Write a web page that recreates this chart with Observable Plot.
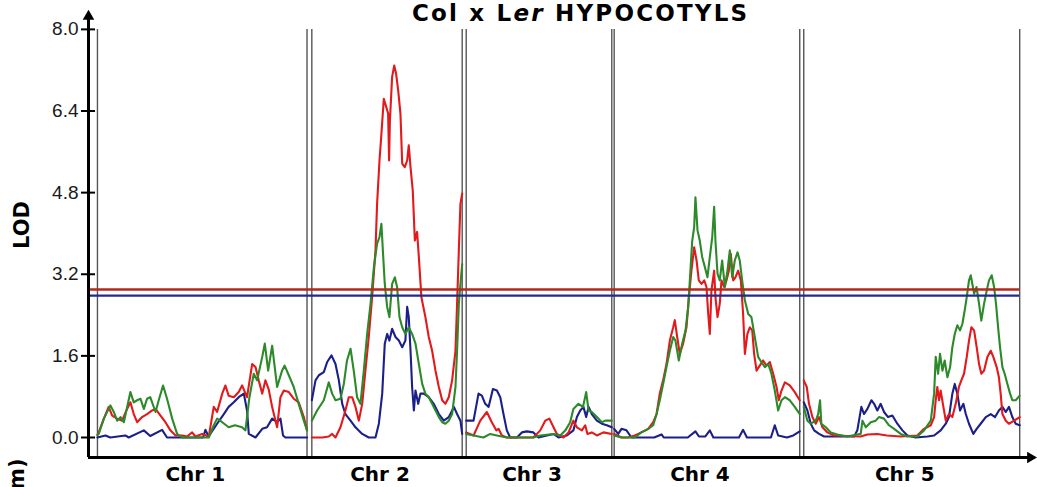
<!DOCTYPE html>
<html>
<head>
<meta charset="utf-8">
<script src="https://cdn.jsdelivr.net/npm/d3@7"></script>
<script src="https://cdn.jsdelivr.net/npm/@observablehq/plot@0.6"></script>
<style>
  html, body { margin: 0; padding: 0; background: #fff; }
  #wrap { position: relative; width: 1037px; height: 487px; overflow: hidden; background: #fff; }
  #title { position: absolute; left: 412px; top: 0px; font: bold 23px "DejaVu Sans", sans-serif; letter-spacing: 2.2px; line-height: 27px; white-space: nowrap; color: #000; }
  #title i { font-style: italic; }
</style>
</head>
<body>
<div id="wrap"></div>
<script>
// ---------------- data ----------------
const chrNames = ["Chr 1", "Chr 2", "Chr 3", "Chr 4", "Chr 5"];
const chrStart = [0, 134, 230.5, 323, 441.5];   // cM offsets along the genome axis
const chrLength = [131, 94, 91, 116, 135];      // cM
const yTicks = [0, 1.6, 3.2, 4.8, 6.4, 8.0];
const thresholdRed = 2.9;
const thresholdBlue = 2.78;

// [position within chromosome (cM), LOD]
const chr1Red = [[0,0.05],[0.8,0.1],[4,0.37],[7,0.6],[9.2,0.43],[12.3,0.37],[15.4,0.33],[18.5,0.56],[20.6,0.69],[22.7,0.46],[24.8,0.3],[27.9,0.4],[31,0.46],[34.2,0.53],[36.3,0.56],[39.4,0.43],[42.5,0.3],[45.6,0.14],[48.8,0.04],[53,0.04],[56,0.02],[59.2,0.1],[61.2,0.02],[65.4,0.07],[69.6,0.02],[72.7,0.6],[74.8,0.5],[78,0.86],[80,1.02],[82,0.82],[85.2,0.79],[88.3,0.89],[90.4,1.02],[93.5,0.79],[96.7,1.44],[98.8,1.38],[100.8,1.12],[103,0.86],[105,1.12],[107,0.95],[109.2,0.6],[112.3,0.2],[114.4,0.79],[116.5,0.92],[119.6,0.89],[122.7,0.76],[125.8,0.69],[129,0.4],[131,0.14]];
const chr1Green = [[0,0.05],[0.8,0.07],[4,0.37],[8.1,0.63],[10.2,0.5],[12.3,0.33],[14.4,0.4],[16.5,0.3],[20.6,0.89],[22.7,0.69],[24.8,0.73],[26.9,0.76],[29,0.56],[31,0.76],[33,0.79],[36.3,0.5],[38.3,0.73],[41,1.02],[43.5,0.76],[46.7,0.37],[49.8,0.07],[53,0],[69.6,0],[72.7,0.24],[74.8,0.37],[78,0.3],[82,0.2],[86,0.24],[90.4,0.2],[92.5,0.14],[95,0.79],[97.7,1.25],[99.8,1.12],[103,1.58],[104.6,1.84],[106.7,1.31],[109.2,1.8],[112.3,0.99],[115.4,1.31],[117,1.41],[119.6,1.22],[122.7,0.99],[125.8,0.66],[129,0.33],[131,0.14]];
const chr1Blue = [[0,0],[5,0.04],[8,0],[17.5,0.04],[19.5,0],[29,0.14],[33,0.03],[40.4,0.15],[43.5,0],[66,0],[67.5,0.15],[69.5,0.02],[74.8,0.27],[79,0.46],[82,0.6],[85.2,0.69],[88.3,0.79],[91.5,0.86],[93.5,0.53],[94.6,0.07],[98.8,0],[103,0.17],[106,0.2],[109.2,0.37],[112.3,0.3],[114.4,0.37],[116,0.04],[117.5,0],[131,0]];

const chr2Red = [[0,0],[6.5,0],[10.6,0.02],[12.7,0.07],[14.8,0],[17.9,0.2],[21,0.53],[23.1,0.79],[25.2,0.79],[27.3,0.6],[29.4,0.33],[31.5,0.66],[33.5,1.31],[35.6,1.97],[37.7,2.75],[39.8,3.67],[40.8,4.58],[42.3,5.43],[43.5,5.95],[45,6.64],[46.5,6.48],[47.7,6.35],[48.3,5.43],[48.8,6.2],[50.2,7.07],[51.5,7.29],[52.7,7.13],[54,6.8],[55.4,6.35],[56.5,5.37],[58.1,5.3],[59.6,5.43],[60.6,5.73],[61.7,5.3],[63.1,4.84],[64.4,3.86],[65.8,4.03],[66.9,3.54],[68.5,2.75],[71,2.36],[73.1,1.97],[75.2,1.7],[77.3,1.31],[79.4,0.99],[81.5,0.73],[83.5,0.66],[85.6,0.79],[87.7,1.12],[89.8,1.7],[90.8,2.62],[91.9,3.67],[92.9,4.58],[94,4.78]];
const chr2Green = [[0,0.33],[3.3,0.53],[7.5,0.73],[10.6,1.08],[12.7,0.86],[14.8,0.73],[17.9,0.76],[20,1.05],[22,1.51],[24.2,1.74],[26.2,1.31],[28.3,0.79],[30.4,0.66],[32.5,1.31],[34.6,2.03],[36.7,2.62],[38.8,3.34],[40.8,3.8],[42.3,3.93],[43.5,4.19],[44.4,3.67],[45.6,3.01],[47.1,2.56],[48.5,2.36],[50.2,3.01],[51.9,3.14],[53.3,2.95],[54.8,2.36],[56.5,2.16],[58.5,2.03],[60.6,2.16],[62.7,2.03],[64.8,1.84],[66.9,1.44],[69,1.05],[71,0.86],[73.1,0.79],[75.2,0.66],[77.3,0.53],[79.4,0.4],[81.5,0.3],[83.5,0.27],[85.6,0.33],[87.7,0.46],[89.8,0.99],[90.8,1.7],[91.9,2.62],[92.9,3.01],[94,3.4]];
const chr2Blue = [[0,0.73],[2.3,1.12],[4.4,1.22],[7.5,1.28],[9.6,1.48],[12.3,1.61],[14.8,1.44],[16.9,1.12],[19,0.66],[21,0.46],[24.2,0.33],[27.3,0.2],[31.5,0.07],[35.6,0],[39.8,0],[41.9,0.27],[44,0.86],[45.6,1.84],[47.1,2.03],[48.5,1.9],[50.2,2.13],[52.3,1.97],[54.4,1.9],[56.5,1.77],[58.5,1.9],[59.6,2.56],[60.6,2.36],[61.7,1.7],[62.7,0.99],[63.8,0.53],[64.8,0.92],[66.5,0.66],[67.9,0.86],[70,0.86],[73.1,0.79],[76.2,0.66],[79.4,0.46],[82.5,0.33],[85.6,0.4],[88.8,0.6],[90.8,0.46],[92.9,0.33],[94,0.07]];

const chr3Red = [[0,0.1],[4.6,0.04],[8.8,0.33],[12.9,0.5],[16,0.3],[18.8,0.14],[20.2,0.17],[22.3,0.04],[25.4,0],[42,0],[46.3,0.14],[49.4,0.33],[52,0.37],[54.6,0.2],[56.7,0.07],[60.8,0],[64,0.1],[67,0.33],[69.2,0.2],[72.3,0.14],[74.4,0.24],[75.8,0.07],[78.5,0.1],[81.7,0.04],[85.8,0.1],[91,0.07]];
const chr3Green = [[0,0.07],[4.6,0.04],[10.8,0],[15,0.07],[19.2,0.04],[25.4,0],[42,0],[46.3,0.04],[54.6,0.07],[58.8,0.04],[62,0.14],[65,0.3],[67,0.56],[70.2,0.66],[73,0.6],[75,0.89],[76.5,0.53],[78.5,0.5],[81.7,0.4],[84.8,0.3],[86.9,0.33],[91,0.33]];
const chr3Blue = [[0,0.33],[4.6,0.33],[7.7,0.86],[9.8,0.82],[11.9,0.66],[14,0.6],[16.7,0.95],[19.2,0.92],[21.3,0.79],[23.3,0.46],[25.4,0.14],[27.5,0],[31.7,0],[34.8,0.1],[37.9,0.12],[42,0.1],[45.2,0],[50.4,0.04],[54.6,0.07],[57.7,0],[62.9,0.04],[67,0.14],[69.2,0.4],[71.3,0.53],[73.3,0.6],[75,0.4],[76.5,0.6],[78.5,0.46],[81.7,0.33],[84.8,0.27],[87.9,0.24],[91,0.2]];

const chr4Red = [[0,0.07],[4.6,0],[8.8,0],[12.9,0.04],[17,0.1],[21.3,0.17],[24.4,0.3],[26.5,0.46],[28.5,0.86],[30.6,1.12],[32.7,1.44],[34.8,1.9],[36.9,2.16],[37.9,2.3],[39.4,1.97],[41,1.64],[43.1,1.84],[45.2,2.16],[46.7,2.75],[48.3,3.27],[50,3.73],[51.5,3.47],[52.9,3.08],[54.6,3.01],[56.3,3.08],[57.7,2.95],[58.8,2.42],[59.8,2.03],[60.8,2.88],[62.5,3.27],[63.3,2.75],[64.6,2.36],[66,2.62],[67.1,3.08],[68.8,2.95],[70.2,3.08],[71.7,3.27],[72.9,3.6],[74.4,3.08],[75.8,3.14],[77.5,3.27],[79.2,3.08],[80.6,2.42],[81.7,1.64],[83.3,2.03],[84.8,2.16],[86.3,2.1],[87.5,1.64],[89,1.31],[91,1.41],[93.1,1.51],[95.2,1.41],[97.3,1.48],[99.4,1.25],[101.5,0.99],[102.9,0.73],[104.6,0.92],[106.7,1.08],[109.8,1.02],[112.9,0.89],[116,0.73]];
const chr4Green = [[0,0.04],[4.6,0],[8.8,0],[12.9,0],[17,0.1],[21.3,0.17],[24.4,0.24],[26.5,0.46],[28.5,0.73],[30.6,1.05],[32.7,1.38],[34.8,1.7],[36.9,1.97],[38.3,1.9],[40.4,1.51],[42.5,1.84],[44.6,2.1],[46.3,2.56],[47.3,3.08],[48.8,3.86],[50,4.12],[50.8,4.71],[52.1,4.06],[53.5,3.86],[55,3.54],[56.7,3.34],[58.3,3.14],[59.8,3.54],[61.3,3.93],[62.5,4.52],[63.3,3.86],[64.6,3.21],[66,3.08],[67.5,3.47],[69.2,2.95],[70.8,3.27],[72.3,3.67],[73.8,3.14],[75.4,3.47],[77.1,3.63],[78.5,3.47],[80,3.08],[81.7,2.69],[83.8,2.42],[85.8,2.36],[87.9,1.97],[90,1.58],[92,1.48],[94.2,1.38],[96.3,1.44],[98.3,1.25],[100.4,0.92],[102.5,0.53],[104.6,0.73],[106.7,0.79],[109.8,0.73],[112.9,0.6],[116,0.46]];
const chr4Blue = [[0,0.17],[2.5,0.07],[4.6,0.17],[7.7,0.14],[10.8,0],[25,0],[29.6,0.06],[31,0],[46,0],[50.8,0.12],[53,0.02],[57,0.02],[59.8,0.14],[62,0],[78,0],[80.6,0.15],[83,0],[98,0],[100.4,0.24],[102.5,0.04],[108,0],[112,0.04],[116,0.12]];

const chr5Red = [[0,1.12],[1.9,0.99],[3.3,0.66],[5.4,0.4],[7.5,0.27],[9.6,0.4],[11.7,0.2],[14.8,0.1],[19,0.04],[35.6,0.02],[39.8,0.06],[46,0.07],[52,0.04],[60.6,0.02],[71,0.04],[75.2,0.17],[79.4,0.24],[81.5,0.4],[82.5,0.73],[83.5,0.99],[84.6,0.73],[85.6,0.92],[87.3,0.6],[88.8,0.33],[90.8,0.46],[92.9,0.4],[95,0.66],[97,0.99],[98.5,1.12],[100.2,1.25],[101.9,1.58],[103.3,1.9],[104.8,2.16],[106.5,2.1],[108.1,1.77],[109.6,1.44],[111,1.25],[112.7,1.31],[114.8,1.58],[116.9,1.7],[118.5,1.58],[120.6,1.38],[122,1.18],[123.1,0.86],[124.2,0.46],[126.3,0.33],[128.3,0.27],[131.5,0.33],[135,0.4]];
const chr5Green = [[0,0.6],[2.3,0.33],[4.4,0.27],[7.5,0.33],[9,0.46],[10.2,0.73],[11,0.27],[13.8,0.2],[16.9,0.1],[21,0.06],[27,0.02],[35,0.07],[35.6,0.07],[36.7,0.33],[38.8,0.2],[41.9,0.3],[45,0.33],[47,0.4],[50.2,0.37],[53.3,0.24],[56.5,0.17],[60.6,0.07],[64.8,0.02],[71,0.02],[75.2,0.14],[79.4,0.33],[81.5,0.86],[82.5,1.58],[84,1.25],[85.2,1.64],[86.7,1.31],[88.1,1.51],[89.8,1.18],[91.5,1.38],[92.9,1.77],[94.4,2.03],[96,2.2],[97.7,2.1],[99.2,2.23],[100.6,2.49],[101.9,2.75],[103.3,3.08],[104.4,3.18],[105.4,3.01],[106.5,2.82],[108,2.95],[109.6,2.62],[111,2.29],[112.7,2.62],[114.4,2.88],[115.8,3.08],[117.5,3.18],[119,2.95],[120.2,2.62],[121.5,2.16],[122.7,1.77],[124.2,1.38],[125.6,1.25],[127.3,1.05],[129,0.86],[130.4,0.73],[132.5,0.73],[135,0.82]];
const chr5Blue = [[0,0.69],[2.3,0.53],[4.4,0.27],[6.5,0.14],[9.6,0.07],[12.7,0.02],[31.5,0.02],[33.5,0.14],[36,0.6],[37.7,0.46],[39.8,0.56],[42.3,0.73],[44,0.66],[46,0.53],[48.1,0.66],[50.2,0.5],[52.7,0.4],[55.4,0.43],[58.5,0.27],[61.7,0.14],[64.8,0.04],[70,0],[77.3,0.02],[81.5,0.04],[85.6,0.14],[88.8,0.27],[90.8,0.4],[92.9,0.86],[94.4,1.05],[96,0.86],[97.7,0.53],[99.8,0.66],[101.3,0.46],[103.3,0.27],[106,0.07],[108.1,0.17],[110.6,0.27],[113.8,0.4],[116.9,0.46],[119.6,0.4],[122,0.53],[124.2,0.6],[126.3,0.5],[128.3,0.6],[130.4,0.4],[132.5,0.27],[135,0.24]];

// ---------------- build tables ----------------
const redByChr = [chr1Red, chr2Red, chr3Red, chr4Red, chr5Red];
const greenByChr = [chr1Green, chr2Green, chr3Green, chr4Green, chr5Green];
const blueByChr = [chr1Blue, chr2Blue, chr3Blue, chr4Blue, chr5Blue];

function toRows(byChr) {
  const rows = [];
  byChr.forEach((pts, i) => pts.forEach(([c, lod]) => rows.push({chr: i, pos: chrStart[i] + c, lod})));
  return rows;
}
const redRows = toRows(redByChr);
const greenRows = toRows(greenByChr);
const blueRows = toRows(blueByChr);

const boundaries = [];
chrStart.forEach((s, i) => { boundaries.push(s); boundaries.push(s + chrLength[i]); });
const genomeEnd = chrStart[4] + chrLength[4];
const chrLabels = chrNames.map((name, i) => ({name, mid: chrStart[i] + chrLength[i] / 2}));

// scale extents (axis origin sits a little left of / below the data)
const xmin = -5.6, xmax = 583.25, ymin = -0.392, ymax = 8.37;

const colors = {red: "#e3191c", green: "#2c8a2a", blue: "#1b1f8a", thrRed: "#b3281d", thrBlue: "#232a8e"};

const chart = Plot.plot({
  width: 1037,
  height: 487,
  marginLeft: 88,
  marginRight: 7,
  marginTop: 10,
  marginBottom: 30,
  x: {domain: [xmin, xmax], axis: null},
  y: {domain: [ymin, ymax], axis: null},
  style: {fontFamily: "'Liberation Sans', Arial, sans-serif", background: "#fff", overflow: "visible", color: "#000"},
  marks: [
    // chromosome separators
    Plot.ruleX(boundaries, {x: d => d, y1: ymin, y2: 8, stroke: "#555", strokeWidth: 1.4}),
    // LOD curves
    Plot.line(blueRows, {x: "pos", y: "lod", z: "chr", stroke: colors.blue, strokeWidth: 2.1}),
    Plot.line(redRows, {x: "pos", y: "lod", z: "chr", stroke: colors.red, strokeWidth: 2.1}),
    Plot.line(greenRows, {x: "pos", y: "lod", z: "chr", stroke: colors.green, strokeWidth: 2.1}),
    // significance thresholds
    Plot.ruleY([thresholdRed], {x1: xmin, x2: genomeEnd, stroke: colors.thrRed, strokeWidth: 2.4}),
    Plot.ruleY([thresholdBlue], {x1: xmin, x2: genomeEnd, stroke: colors.thrBlue, strokeWidth: 2.2}),
    // axes lines with arrows
    Plot.ruleX([xmin], {y1: ymin, y2: ymax - 0.15, stroke: "#000", strokeWidth: 3}),
    Plot.ruleY([ymin], {x1: xmin, x2: xmax, stroke: "#000", strokeWidth: 3}),
    Plot.dot([0], {x: () => xmin, y: () => ymax, symbol: "triangle", r: 4.3, fill: "#000", stroke: "none", dy: 6}),
    Plot.dot([0], {x: () => xmax, y: () => ymin, symbol: "triangle", r: 4.3, fill: "#000", stroke: "none", rotate: 90}),
    // y ticks crossing the axis
    Plot.ruleY(yTicks, {y: d => d, x1: xmin - 4.4, x2: xmin + 4.4, stroke: "#000", strokeWidth: 2}),
    Plot.axisY({ticks: yTicks, tickFormat: d => d.toFixed(1), tickSize: 0, tickPadding: 10, fontSize: 19, fill: "#1a1a1a", label: null}),
    // chromosome labels
    Plot.text(chrLabels, {x: "mid", y: () => ymin, text: "name", dy: 17, dx: -7, fontSize: 20, fontWeight: "bold", fontFamily: "DejaVu Sans", fill: "#000"}),
    // y axis title
    Plot.text(["LOD"], {frameAnchor: "left", textAnchor: "middle", dx: -66, dy: -9, rotate: -90, fontSize: 21, fontWeight: "bold", fontFamily: "DejaVu Sans", fill: "#000"}),
    Plot.text(["(cm)"], {frameAnchor: "bottom-left", dx: -65, dy: 1, rotate: -90, textAnchor: "end", fontSize: 21, fontWeight: "bold", fontFamily: "DejaVu Sans", fill: "#000"})
  ]
});

const wrap = document.getElementById("wrap");
wrap.appendChild(chart);
const title = document.createElement("div");
title.id = "title";
title.innerHTML = "Col x L<i>er</i> HYPOCOTYLS";
wrap.appendChild(title);
</script>
</body>
</html>
